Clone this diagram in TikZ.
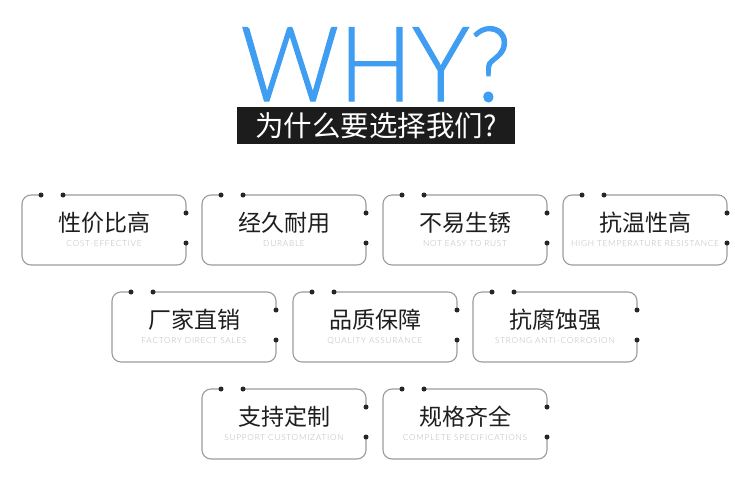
\documentclass[tikz,border=0pt]{standalone}
\usepackage{fontspec}
\usepackage{xcolor}
\newfontfamily\cjkfont{Noto Sans CJK SC}
\newfontfamily\whyfont[FakeBold=1.2]{Lato Light}
\newfontfamily\subfont[LetterSpace=9]{Lato Light}

\definecolor{whyblue}{HTML}{3F9EF2}
\definecolor{bandblack}{HTML}{1C1C1C}
\definecolor{edgegray}{HTML}{9C9C9C}
\definecolor{subgray}{HTML}{B8B8B8}
\definecolor{titleink}{HTML}{1E1E1E}

% one card: name, left, top, chinese, english
\newcommand{\featurebox}[5]{%
  \draw[frame_line] (#2+19,#3) -- (#2,#3) -- (#2,#3+70) -- (#2+164,#3+70) -- (#2+164,#3+48);
  \draw[frame_line] (#2+164,#3+18) -- (#2+164,#3) -- (#2+41,#3);
  \node[pin_dot] (#1-a) at (#2+19,#3) {};
  \node[pin_dot] (#1-b) at (#2+41,#3) {};
  \node[pin_dot] (#1-c) at (#2+164,#3+18) {};
  \node[pin_dot] (#1-d) at (#2+164,#3+48) {};
  \node[cn_label] (#1-cn) at (#2+82,#3+28) {#4};
  \node[en_label] (#1-en) at (#2+82,#3+49) {#5};
}

\begin{document}
\begin{tikzpicture}[x=1pt,y=-1pt,
  frame_line/.style={draw=edgegray,line width=1.1pt,rounded corners=9pt},
  pin_dot/.style={circle,fill=black!85,inner sep=0pt,minimum size=5pt},
  cn_label/.style={font=\cjkfont\fontsize{23}{23}\selectfont,text=titleink,inner sep=0pt},
  en_label/.style={font=\subfont\fontsize{8.3}{8.3}\selectfont,text=subgray,inner sep=0pt}]

\fill[white] (0,0) rectangle (750,480);
\useasboundingbox (0,0) rectangle (750,480);

% header
\node[font=\whyfont\fontsize{104}{104}\selectfont,text=whyblue,anchor=base,inner sep=0pt,xscale=0.93] (why) at (376,101) {WHY?};
\node[fill=bandblack,minimum width=278pt,minimum height=37pt,inner sep=0pt,
      font=\cjkfont\fontsize{28.5}{28.5}\selectfont,text=white] (band) at (376,125.5) {为什么要选择我们?};

% first row
\featurebox{cost}{22}{195}{性价比高}{COST-EFFECTIVE}
\featurebox{durable}{202}{195}{经久耐用}{DURABLE}
\featurebox{rust}{383}{195}{不易生锈}{NOT EASY TO RUST}
\featurebox{heat}{563}{195}{抗温性高}{HIGH TEMPERATURE RESISTANCE}

% second row
\featurebox{factory}{112}{292}{厂家直销}{FACTORY DIRECT SALES}
\featurebox{quality}{293}{292}{品质保障}{QUALITY ASSURANCE}
\featurebox{corrosion}{473}{292}{抗腐蚀强}{STRONG ANTI-CORROSION}

% third row
\featurebox{custom}{202}{389}{支持定制}{SUPPORT CUSTOMIZATION}
\featurebox{spec}{383}{389}{规格齐全}{COMPLETE SPECIFICATIONS}

\end{tikzpicture}
\end{document}
